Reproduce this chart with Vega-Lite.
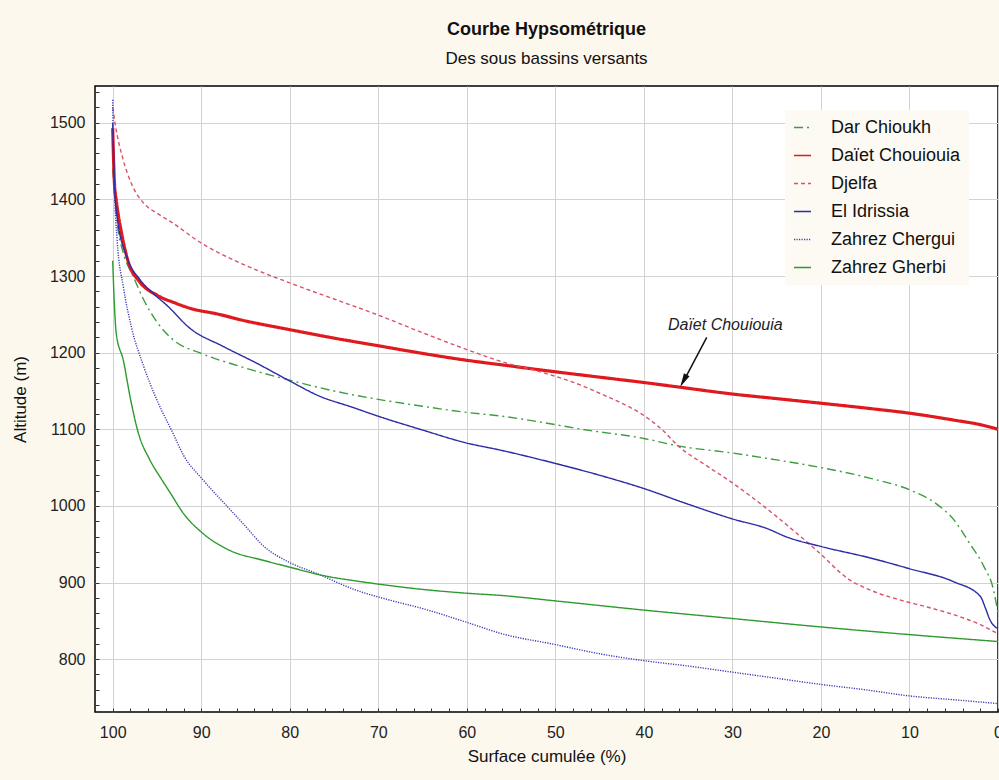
{
  "$schema": "https://vega.github.io/schema/vega-lite/v6.json",
  "width": 903,
  "height": 626,
  "autosize": {"type": "none"},
  "padding": {"left": 95, "top": 86, "right": 1, "bottom": 68},
  "background": "#fdf8ee",
  "config": {
    "font": "Liberation Sans",
    "view": {"fill": "white", "stroke": "black", "strokeWidth": 1.5}
  },
  "title": {
    "text": "Courbe Hypsométrique",
    "subtitle": "Des sous bassins versants",
    "anchor": "middle",
    "font": "Liberation Sans",
    "subtitleFont": "Liberation Sans",
    "fontSize": 18,
    "fontWeight": "bold",
    "subtitleFontSize": 17,
    "color": "#111111",
    "subtitleColor": "#111111",
    "offset": 19,
    "subtitlePadding": 12
  },
  "datasets": {
    "curves": [
      {"s": "Dar Chioukh", "x": 100, "y": 1440}, {"s": "Dar Chioukh", "x": 99.5, "y": 1370}, {"s": "Dar Chioukh", "x": 98.8, "y": 1330}, {"s": "Dar Chioukh", "x": 97.7, "y": 1300}, {"s": "Dar Chioukh", "x": 96.5, "y": 1269}, {"s": "Dar Chioukh", "x": 95, "y": 1240}, {"s": "Dar Chioukh", "x": 93.2, "y": 1217}, {"s": "Dar Chioukh", "x": 90, "y": 1199}, {"s": "Dar Chioukh", "x": 85.6, "y": 1182}, {"s": "Dar Chioukh", "x": 80, "y": 1164}, {"s": "Dar Chioukh", "x": 75, "y": 1150}, {"s": "Dar Chioukh", "x": 70, "y": 1139}, {"s": "Dar Chioukh", "x": 65, "y": 1130}, {"s": "Dar Chioukh", "x": 60, "y": 1122}, {"s": "Dar Chioukh", "x": 56, "y": 1117}, {"s": "Dar Chioukh", "x": 50, "y": 1106}, {"s": "Dar Chioukh", "x": 47, "y": 1100}, {"s": "Dar Chioukh", "x": 40, "y": 1088}, {"s": "Dar Chioukh", "x": 36, "y": 1078}, {"s": "Dar Chioukh", "x": 30, "y": 1069}, {"s": "Dar Chioukh", "x": 25, "y": 1060}, {"s": "Dar Chioukh", "x": 20, "y": 1050}, {"s": "Dar Chioukh", "x": 14.4, "y": 1036}, {"s": "Dar Chioukh", "x": 10, "y": 1021}, {"s": "Dar Chioukh", "x": 7, "y": 1003}, {"s": "Dar Chioukh", "x": 5, "y": 982}, {"s": "Dar Chioukh", "x": 3.2, "y": 951}, {"s": "Dar Chioukh", "x": 1.6, "y": 921}, {"s": "Dar Chioukh", "x": 0.5, "y": 890}, {"s": "Dar Chioukh", "x": 0, "y": 860},
      {"s": "Daïet Chouiouia", "x": 100, "y": 1493}, {"s": "Daïet Chouiouia", "x": 99.8, "y": 1420}, {"s": "Daïet Chouiouia", "x": 99.6, "y": 1399}, {"s": "Daïet Chouiouia", "x": 99, "y": 1356}, {"s": "Daïet Chouiouia", "x": 98.2, "y": 1317}, {"s": "Daïet Chouiouia", "x": 97, "y": 1293}, {"s": "Daïet Chouiouia", "x": 95, "y": 1275}, {"s": "Daïet Chouiouia", "x": 93, "y": 1265}, {"s": "Daïet Chouiouia", "x": 91.3, "y": 1258}, {"s": "Daïet Chouiouia", "x": 88, "y": 1250}, {"s": "Daïet Chouiouia", "x": 85.6, "y": 1243}, {"s": "Daïet Chouiouia", "x": 80, "y": 1230}, {"s": "Daïet Chouiouia", "x": 75, "y": 1219}, {"s": "Daïet Chouiouia", "x": 70, "y": 1209}, {"s": "Daïet Chouiouia", "x": 65, "y": 1199}, {"s": "Daïet Chouiouia", "x": 60, "y": 1190}, {"s": "Daïet Chouiouia", "x": 56, "y": 1184}, {"s": "Daïet Chouiouia", "x": 50, "y": 1175}, {"s": "Daïet Chouiouia", "x": 45, "y": 1168}, {"s": "Daïet Chouiouia", "x": 40, "y": 1161}, {"s": "Daïet Chouiouia", "x": 36, "y": 1155}, {"s": "Daïet Chouiouia", "x": 30, "y": 1146}, {"s": "Daïet Chouiouia", "x": 25, "y": 1140}, {"s": "Daïet Chouiouia", "x": 20, "y": 1134}, {"s": "Daïet Chouiouia", "x": 14.4, "y": 1127}, {"s": "Daïet Chouiouia", "x": 10, "y": 1121}, {"s": "Daïet Chouiouia", "x": 5, "y": 1112}, {"s": "Daïet Chouiouia", "x": 2, "y": 1106}, {"s": "Daïet Chouiouia", "x": 0, "y": 1100},
      {"s": "Djelfa", "x": 100, "y": 1520}, {"s": "Djelfa", "x": 99.7, "y": 1497}, {"s": "Djelfa", "x": 98.8, "y": 1451}, {"s": "Djelfa", "x": 97.9, "y": 1421}, {"s": "Djelfa", "x": 96.5, "y": 1395}, {"s": "Djelfa", "x": 95, "y": 1382}, {"s": "Djelfa", "x": 93.2, "y": 1369}, {"s": "Djelfa", "x": 90, "y": 1343}, {"s": "Djelfa", "x": 85.6, "y": 1317}, {"s": "Djelfa", "x": 80, "y": 1291}, {"s": "Djelfa", "x": 75, "y": 1270}, {"s": "Djelfa", "x": 70, "y": 1249}, {"s": "Djelfa", "x": 65, "y": 1226}, {"s": "Djelfa", "x": 60, "y": 1204}, {"s": "Djelfa", "x": 56, "y": 1188}, {"s": "Djelfa", "x": 51.7, "y": 1175}, {"s": "Djelfa", "x": 47, "y": 1157}, {"s": "Djelfa", "x": 45, "y": 1147}, {"s": "Djelfa", "x": 42.5, "y": 1134}, {"s": "Djelfa", "x": 40.4, "y": 1121}, {"s": "Djelfa", "x": 38, "y": 1100}, {"s": "Djelfa", "x": 36, "y": 1077}, {"s": "Djelfa", "x": 33, "y": 1053}, {"s": "Djelfa", "x": 30, "y": 1030}, {"s": "Djelfa", "x": 25, "y": 986}, {"s": "Djelfa", "x": 20.5, "y": 942}, {"s": "Djelfa", "x": 16.7, "y": 903}, {"s": "Djelfa", "x": 14.4, "y": 890}, {"s": "Djelfa", "x": 11, "y": 877}, {"s": "Djelfa", "x": 8, "y": 868}, {"s": "Djelfa", "x": 5, "y": 858}, {"s": "Djelfa", "x": 2, "y": 845}, {"s": "Djelfa", "x": 0, "y": 833},
      {"s": "El Idrissia", "x": 100, "y": 1500}, {"s": "El Idrissia", "x": 99.8, "y": 1421}, {"s": "El Idrissia", "x": 99.5, "y": 1377}, {"s": "El Idrissia", "x": 98.4, "y": 1325}, {"s": "El Idrissia", "x": 96.9, "y": 1295}, {"s": "El Idrissia", "x": 95.5, "y": 1278}, {"s": "El Idrissia", "x": 93.9, "y": 1262}, {"s": "El Idrissia", "x": 91.3, "y": 1232}, {"s": "El Idrissia", "x": 87.5, "y": 1208}, {"s": "El Idrissia", "x": 83.7, "y": 1186}, {"s": "El Idrissia", "x": 80, "y": 1163}, {"s": "El Idrissia", "x": 76.6, "y": 1143}, {"s": "El Idrissia", "x": 73, "y": 1129}, {"s": "El Idrissia", "x": 70, "y": 1117}, {"s": "El Idrissia", "x": 65, "y": 1099}, {"s": "El Idrissia", "x": 60, "y": 1082}, {"s": "El Idrissia", "x": 56.3, "y": 1073}, {"s": "El Idrissia", "x": 50.2, "y": 1056}, {"s": "El Idrissia", "x": 45, "y": 1040}, {"s": "El Idrissia", "x": 40.1, "y": 1023}, {"s": "El Idrissia", "x": 35.2, "y": 1003}, {"s": "El Idrissia", "x": 30, "y": 983}, {"s": "El Idrissia", "x": 26, "y": 970}, {"s": "El Idrissia", "x": 24, "y": 960}, {"s": "El Idrissia", "x": 20, "y": 947}, {"s": "El Idrissia", "x": 14.4, "y": 932}, {"s": "El Idrissia", "x": 10, "y": 918}, {"s": "El Idrissia", "x": 5, "y": 901}, {"s": "El Idrissia", "x": 2, "y": 882}, {"s": "El Idrissia", "x": 1.4, "y": 866}, {"s": "El Idrissia", "x": 0.9, "y": 851}, {"s": "El Idrissia", "x": 0.3, "y": 842}, {"s": "El Idrissia", "x": 0, "y": 840},
      {"s": "Zahrez Chergui", "x": 100, "y": 1530}, {"s": "Zahrez Chergui", "x": 99.9, "y": 1450}, {"s": "Zahrez Chergui", "x": 99.5, "y": 1347}, {"s": "Zahrez Chergui", "x": 98.8, "y": 1286}, {"s": "Zahrez Chergui", "x": 97.9, "y": 1234}, {"s": "Zahrez Chergui", "x": 96.5, "y": 1182}, {"s": "Zahrez Chergui", "x": 95, "y": 1138}, {"s": "Zahrez Chergui", "x": 93.2, "y": 1095}, {"s": "Zahrez Chergui", "x": 92, "y": 1066}, {"s": "Zahrez Chergui", "x": 89.8, "y": 1034}, {"s": "Zahrez Chergui", "x": 86.8, "y": 996}, {"s": "Zahrez Chergui", "x": 85.2, "y": 976}, {"s": "Zahrez Chergui", "x": 83, "y": 948}, {"s": "Zahrez Chergui", "x": 80, "y": 926}, {"s": "Zahrez Chergui", "x": 77, "y": 912}, {"s": "Zahrez Chergui", "x": 72.5, "y": 890}, {"s": "Zahrez Chergui", "x": 68.7, "y": 877}, {"s": "Zahrez Chergui", "x": 65, "y": 866}, {"s": "Zahrez Chergui", "x": 60, "y": 848}, {"s": "Zahrez Chergui", "x": 56, "y": 833}, {"s": "Zahrez Chergui", "x": 50, "y": 819}, {"s": "Zahrez Chergui", "x": 45, "y": 807}, {"s": "Zahrez Chergui", "x": 40, "y": 798}, {"s": "Zahrez Chergui", "x": 35, "y": 791}, {"s": "Zahrez Chergui", "x": 30, "y": 783}, {"s": "Zahrez Chergui", "x": 25, "y": 775}, {"s": "Zahrez Chergui", "x": 20, "y": 767}, {"s": "Zahrez Chergui", "x": 15, "y": 760}, {"s": "Zahrez Chergui", "x": 10, "y": 752}, {"s": "Zahrez Chergui", "x": 5, "y": 747}, {"s": "Zahrez Chergui", "x": 0, "y": 742},
      {"s": "Zahrez Gherbi", "x": 100, "y": 1320}, {"s": "Zahrez Gherbi", "x": 99.8, "y": 1260}, {"s": "Zahrez Gherbi", "x": 99.6, "y": 1225}, {"s": "Zahrez Gherbi", "x": 98.8, "y": 1190}, {"s": "Zahrez Gherbi", "x": 98, "y": 1140}, {"s": "Zahrez Gherbi", "x": 97.1, "y": 1095}, {"s": "Zahrez Gherbi", "x": 95.8, "y": 1060}, {"s": "Zahrez Gherbi", "x": 94.5, "y": 1035}, {"s": "Zahrez Gherbi", "x": 93.5, "y": 1017}, {"s": "Zahrez Gherbi", "x": 92, "y": 990}, {"s": "Zahrez Gherbi", "x": 89.8, "y": 964}, {"s": "Zahrez Gherbi", "x": 86.8, "y": 942}, {"s": "Zahrez Gherbi", "x": 83, "y": 929}, {"s": "Zahrez Gherbi", "x": 80, "y": 920}, {"s": "Zahrez Gherbi", "x": 76.2, "y": 909}, {"s": "Zahrez Gherbi", "x": 72.5, "y": 902}, {"s": "Zahrez Gherbi", "x": 68.7, "y": 896}, {"s": "Zahrez Gherbi", "x": 65, "y": 891}, {"s": "Zahrez Gherbi", "x": 60, "y": 886}, {"s": "Zahrez Gherbi", "x": 56, "y": 883}, {"s": "Zahrez Gherbi", "x": 50, "y": 876}, {"s": "Zahrez Gherbi", "x": 40, "y": 864}, {"s": "Zahrez Gherbi", "x": 30, "y": 853}, {"s": "Zahrez Gherbi", "x": 20, "y": 842}, {"s": "Zahrez Gherbi", "x": 10, "y": 832}, {"s": "Zahrez Gherbi", "x": 0, "y": 823}
    ],
    "note": [{"x": 30.8, "y": 1236, "label": "Daïet Chouiouia"}],
    "arrow": [{"x": 32.9, "y": 1220}, {"x": 35.6, "y": 1161}],
    "head": [{"x": 35.9, "y": 1155}]
  },
  "resolve": {"axis": {"x": "independent", "y": "independent"}},
  "layer": [
    {
      "data": {"name": "curves"},
      "mark": {"type": "line", "interpolate": "monotone"},
      "encoding": {
        "x": {
          "field": "x", "type": "quantitative",
          "scale": {"domain": [0, 102], "reverse": true, "nice": false, "zero": false},
          "axis": {
            "orient": "bottom",
            "values": [0, 10, 20, 30, 40, 50, 60, 70, 80, 90, 100],
            "title": "Surface cumulée (%)",
            "titleFontSize": 17, "titleFontWeight": "normal", "titleColor": "#111111", "titlePadding": 8,
            "labelFontSize": 16, "labelColor": "#222222", "labelPadding": 12, "labelFlush": false,
            "grid": true, "gridColor": "#d2d2d2", "gridWidth": 1,
            "domain": false, "ticks": false
          }
        },
        "y": {
          "field": "y", "type": "quantitative",
          "scale": {"domain": [731, 1548], "nice": false, "zero": false},
          "axis": {
            "orient": "left",
            "format": "d",
            "values": [800, 900, 1000, 1100, 1200, 1300, 1400, 1500],
            "title": "Altitude (m)",
            "titleFontSize": 17, "titleFontWeight": "normal", "titleColor": "#111111", "titlePadding": 20,
            "labelFontSize": 16, "labelColor": "#222222", "labelPadding": 10,
            "grid": true, "gridColor": "#d2d2d2", "gridWidth": 1,
            "domain": false, "ticks": false
          }
        },
        "color": {
          "field": "s", "type": "nominal",
          "scale": {
            "domain": ["Dar Chioukh", "Daïet Chouiouia", "Djelfa", "El Idrissia", "Zahrez Chergui", "Zahrez Gherbi"],
            "range": ["#3f9d3f", "#e0191e", "#d9536a", "#2b2ba8", "#3b3bb4", "#2e9a2e"]
          },
          "legend": {
            "title": null, "orient": "none", "legendX": 690, "legendY": 24,
            "fillColor": "#fdfaf3", "padding": 8,
            "symbolType": "stroke", "symbolSize": 289, "symbolStrokeWidth": 1.5,
            "labelFontSize": 18, "labelColor": "#111111", "labelOffset": 19, "rowPadding": 9
          }
        },
        "strokeDash": {
          "field": "s", "type": "nominal",
          "scale": {
            "domain": ["Dar Chioukh", "Daïet Chouiouia", "Djelfa", "El Idrissia", "Zahrez Chergui", "Zahrez Gherbi"],
            "range": [[9, 4, 2, 4], [1, 0], [4, 3], [1, 0], [1.2, 1.3], [1, 0]]
          },
          "legend": {
            "title": null, "orient": "none", "legendX": 690, "legendY": 24,
            "fillColor": "#fdfaf3", "padding": 8,
            "symbolType": "stroke", "symbolSize": 289, "symbolStrokeWidth": 1.5,
            "labelFontSize": 18, "labelColor": "#111111", "labelOffset": 19, "rowPadding": 9
          }
        },
        "strokeWidth": {
          "condition": {"test": "datum.s === 'Daïet Chouiouia'", "value": 3.2},
          "value": 1.4
        }
      }
    },
    {
      "data": {"name": "arrow"},
      "mark": {"type": "line", "color": "#111111", "strokeWidth": 1.5},
      "encoding": {
        "x": {"field": "x", "type": "quantitative", "axis": {
          "orient": "bottom", "offset": -4, "zindex": 2,
          "values": [0, 2, 4, 6, 8, 10, 12, 14, 16, 18, 20, 22, 24, 26, 28, 30, 32, 34, 36, 38, 40, 42, 44, 46, 48, 50, 52, 54, 56, 58, 60, 62, 64, 66, 68, 70, 72, 74, 76, 78, 80, 82, 84, 86, 88, 90, 92, 94, 96, 98, 100],
          "labels": false, "grid": false, "domain": false, "title": null, "ticks": true, "tickSize": 4, "tickWidth": 1, "tickColor": "#333333"}},
        "y": {"field": "y", "type": "quantitative", "axis": {
          "orient": "left", "offset": -4, "zindex": 2,
          "values": [740, 760, 780, 800, 820, 840, 860, 880, 900, 920, 940, 960, 980, 1000, 1020, 1040, 1060, 1080, 1100, 1120, 1140, 1160, 1180, 1200, 1220, 1240, 1260, 1280, 1300, 1320, 1340, 1360, 1380, 1400, 1420, 1440, 1460, 1480, 1500, 1520, 1540],
          "labels": false, "grid": false, "domain": false, "title": null, "ticks": true, "tickSize": 4, "tickWidth": 1, "tickColor": "#333333"}}
      }
    },
    {
      "data": {"name": "head"},
      "mark": {"type": "point", "shape": "M0,0L0.45,2L-0.45,2Z", "filled": true, "color": "#111111", "opacity": 1, "size": 196, "angle": 208},
      "encoding": {
        "x": {"field": "x", "type": "quantitative", "axis": null},
        "y": {"field": "y", "type": "quantitative", "axis": null}
      }
    },
    {
      "data": {"name": "note"},
      "mark": {"type": "text", "fontStyle": "italic", "fontSize": 16, "color": "#222222", "align": "center", "baseline": "middle"},
      "encoding": {
        "x": {"field": "x", "type": "quantitative", "axis": null},
        "y": {"field": "y", "type": "quantitative", "axis": null},
        "text": {"field": "label"}
      }
    }
  ]
}
